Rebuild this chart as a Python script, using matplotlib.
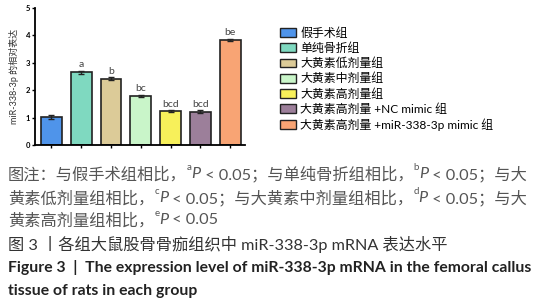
import matplotlib
matplotlib.use("Agg")
import matplotlib.pyplot as plt
from matplotlib.patches import Patch

plt.rcParams['font.family'] = ['Lato', 'Noto Sans CJK SC', 'DejaVu Sans']

groups = ["假手术组", "单纯骨折组", "大黄素低剂量组", "大黄素中剂量组",
          "大黄素高剂量组", "大黄素高剂量 +NC mimic 组", "大黄素高剂量 +miR-338-3p mimic 组"]
values = [1.02, 2.65, 2.42, 1.79, 1.25, 1.21, 3.83]
errors = [0.06, 0.06, 0.05, 0.04, 0.03, 0.06, 0.05]
letters = ["", "a", "b", "bc", "bcd", "bcd", "be"]
colors = ["#4f94ea", "#7fd9c0", "#dccb98", "#c9f5c9", "#f7f05a", "#9c7f9a", "#f8a474"]

W, H = 538, 300
fig = plt.figure(figsize=(W / 100, H / 100), dpi=100)
ax = fig.add_axes([35 / W, 1 - 145 / H, 210 / W, 137 / H])

x = list(range(len(values)))
ax.bar(x, values, width=0.7, color=colors, edgecolor="#222222", linewidth=1.2,
       yerr=errors, error_kw=dict(ecolor="#222222", elinewidth=1, capsize=2.5, capthick=1))
for xi, v, e, t in zip(x, values, errors, letters):
    ax.text(xi, v + e + 0.05, t, ha="center", va="bottom", fontsize=7.5, color="#444444")

ax.set_xlim(-0.55, 6.5)
ax.set_ylim(0, 5)
ax.set_yticks([0, 1, 2, 3, 4, 5])
ax.set_xticks(x)
ax.set_xticklabels([])
ax.tick_params(axis="both", direction="out", length=2.5, width=1, labelsize=5.5, pad=1)
for lab in ax.get_yticklabels():
    lab.set_fontweight("bold")
ax.spines["top"].set_visible(False)
ax.spines["right"].set_visible(False)
ax.spines["left"].set_linewidth(1.3)
ax.spines["bottom"].set_linewidth(1.3)
ax.set_ylabel("miR-338-3p 的相对表达", fontsize=6.5, color="#333333", labelpad=5)

handles = [Patch(facecolor=c, edgecolor="#222222", linewidth=1) for c in colors]
ax.legend(handles, groups, loc="upper left", bbox_to_anchor=(280 / W, 1 - 27 / H),
          bbox_transform=fig.transFigure, frameon=False, fontsize=8.6,
          handlelength=1.3, handleheight=0.75, handletextpad=0.4,
          labelspacing=0.3, borderpad=0, borderaxespad=0)

# caption drawn as runs of text so the P can be italic and letters raised
renderer = fig.canvas.get_renderer()


def draw_runs(x0, yc, runs, size, color, weight="normal"):
    xp = x0
    for txt, style in runs:
        fs = size
        dy = 0
        st = "normal"
        if style == "sup":
            fs = size * 0.6
            dy = size * 0.55
        elif style == "it":
            st = "italic"
        t = fig.text(xp / W, 1 - (yc - dy) / H, txt, fontsize=fs, color=color,
                     fontweight=weight, fontstyle=st, ha="left", va="center_baseline")
        xp += t.get_window_extent(renderer).width


fs_cn = 11.7
fs_en = 11.3
gray = "#555555"
draw_runs(8, 173, [("图注：与假手术组相比，", "n"), ("a", "sup"), ("P", "it"), (" < 0.05；与单纯骨折组相比，", "n"),
                   ("b", "sup"), ("P", "it"), (" < 0.05；与大", "n")], fs_cn, gray)
draw_runs(8, 197, [("黄素低剂量组相比，", "n"), ("c", "sup"), ("P", "it"), (" < 0.05；与大黄素中剂量组相比，", "n"),
                   ("d", "sup"), ("P", "it"), (" < 0.05；与大", "n")], fs_cn, gray)
draw_runs(8, 219, [("黄素高剂量组相比，", "n"), ("e", "sup"), ("P", "it"), (" < 0.05", "n")], fs_cn, gray)
draw_runs(8, 243, [("图 3 丨各组大鼠股骨骨痂组织中 miR-338-3p mRNA 表达水平", "n")], fs_cn, "#333333")
draw_runs(8, 266, [("Figure 3  |  The expression level of miR-338-3p mRNA in the femoral callus", "n")],
          fs_en, "#222222", weight="bold")
draw_runs(8, 290, [("tissue of rats in each group", "n")], fs_en, "#222222", weight="bold")

fig.savefig("out.png", dpi=100)
